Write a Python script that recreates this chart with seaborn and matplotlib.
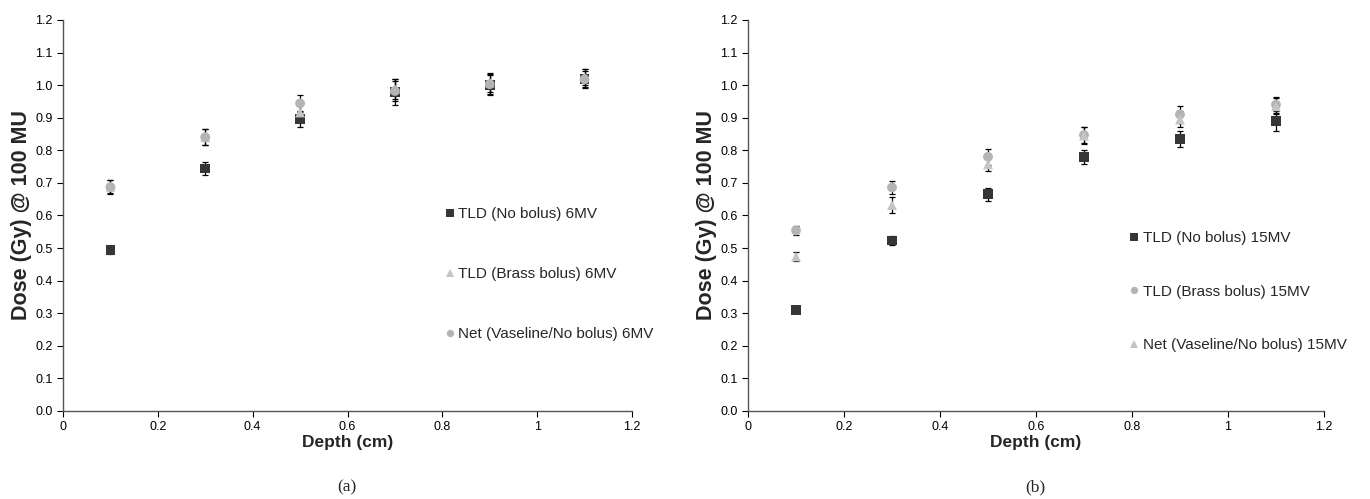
import numpy as np
import pandas as pd
import matplotlib
matplotlib.use('Agg')
import matplotlib.pyplot as plt
import seaborn as sns

sns.set_style('white')
plt.rcParams['font.family'] = ['Liberation Sans', 'DejaVu Sans']

# Data
depth = [0.1, 0.3, 0.5, 0.7, 0.9, 1.1]

# (a) 6MV
a_nobolus = [0.493, 0.744, 0.897, 0.978, 1.000, 1.020]
a_nobolus_err = [0.010, 0.020, 0.025, 0.040, 0.030, 0.030]
a_brass = [0.688, 0.840, 0.916, 0.988, 1.008, 1.025]
a_brass_err = [0.020, 0.025, 0.025, 0.030, 0.030, 0.025]
a_net = [0.687, 0.840, 0.944, 0.982, 1.003, 1.018]
a_net_err = [0.022, 0.025, 0.025, 0.030, 0.030, 0.025]

# (b) 15MV
b_nobolus = [0.311, 0.523, 0.665, 0.779, 0.835, 0.890]
b_nobolus_err = [0.005, 0.015, 0.020, 0.022, 0.025, 0.030]
b_brass = [0.554, 0.686, 0.780, 0.847, 0.910, 0.940]
b_brass_err = [0.015, 0.020, 0.025, 0.025, 0.025, 0.025]
b_net = [0.474, 0.632, 0.757, 0.845, 0.895, 0.935]
b_net_err = [0.015, 0.025, 0.020, 0.025, 0.025, 0.025]

labels_a = ['TLD (No bolus) 6MV', 'TLD (Brass bolus) 6MV', 'Net (Vaseline/No bolus) 6MV']
labels_b = ['TLD (No bolus) 15MV', 'TLD (Brass bolus) 15MV', 'Net (Vaseline/No bolus) 15MV']

dark = '#363636'
grey_circle = '#b4b4b4'
grey_tri = '#c4c4c4'

fig = plt.figure(figsize=(13.7, 4.99), dpi=100)
ax1 = fig.add_axes([0.046, 0.1764, 0.4153, 0.7836])
ax2 = fig.add_axes([0.546, 0.1764, 0.4204, 0.7836])


def draw(ax, series, labels, markers, colors, legend_anchor, spacing):
    rows = []
    for vals, lab in zip(series, labels):
        for d, v in zip(depth, vals[0]):
            rows.append({'Depth': d, 'Dose': v, 'Series': lab})
    df = pd.DataFrame(rows)
    for (vals, err) in series:
        ax.errorbar(depth, vals, yerr=err, fmt='none', ecolor='black',
                    elinewidth=0.9, capsize=2.5, capthick=0.9, zorder=2)
    sns.scatterplot(data=df, x='Depth', y='Dose', hue='Series', style='Series',
                    hue_order=labels, style_order=labels,
                    palette=dict(zip(labels, colors)),
                    markers=dict(zip(labels, markers)),
                    s=50, edgecolor='none', linewidth=0, ax=ax, zorder=3)
    ax.set_xlim(0, 1.2)
    ax.set_ylim(0, 1.2)
    ax.set_xticks([0, 0.2, 0.4, 0.6, 0.8, 1.0, 1.2])
    ax.set_xticklabels(['0', '0.2', '0.4', '0.6', '0.8', '1', '1.2'])
    ax.set_yticks(np.arange(0, 1.21, 0.1))
    ax.set_yticklabels([f'{v:.1f}' for v in np.arange(0, 1.21, 0.1)])
    ax.tick_params(axis='both', labelsize=9, length=4, width=0.8,
                   direction='out', colors='black', left=True, bottom=True)
    for s in ['top', 'right']:
        ax.spines[s].set_visible(False)
    for s in ['left', 'bottom']:
        ax.spines[s].set_color('#555555')
        ax.spines[s].set_linewidth(1.0)
    ax.set_xlabel('Depth (cm)', fontsize=12.5, fontweight='bold', labelpad=1)
    ax.set_ylabel('Dose (Gy) @ 100 MU', fontsize=15.5, fontweight='bold', labelpad=2)
    leg = ax.legend(loc='upper left', bbox_to_anchor=legend_anchor, frameon=False,
                    fontsize=11, labelspacing=spacing, handlelength=0.6,
                    handletextpad=0.25, markerscale=0.75, title=None,
                    borderaxespad=0, borderpad=0)
    return leg


draw(ax1, [(a_nobolus, a_nobolus_err), (a_brass, a_brass_err), (a_net, a_net_err)],
     labels_a, ['s', '^', 'o'], [dark, grey_tri, grey_circle], (0.672, 0.522), 3.02)
draw(ax2, [(b_nobolus, b_nobolus_err), (b_brass, b_brass_err), (b_net, b_net_err)],
     labels_b, ['s', 'o', '^'], [dark, grey_circle, grey_tri], (0.663, 0.459), 2.57)

fig.text(0.253, 0.024, '(a)', fontsize=12.5, family='Liberation Serif', ha='center', va='center')
fig.text(0.756, 0.024, '(b)', fontsize=12.5, family='Liberation Serif', ha='center', va='center')

fig.savefig('out.png', dpi=100)
